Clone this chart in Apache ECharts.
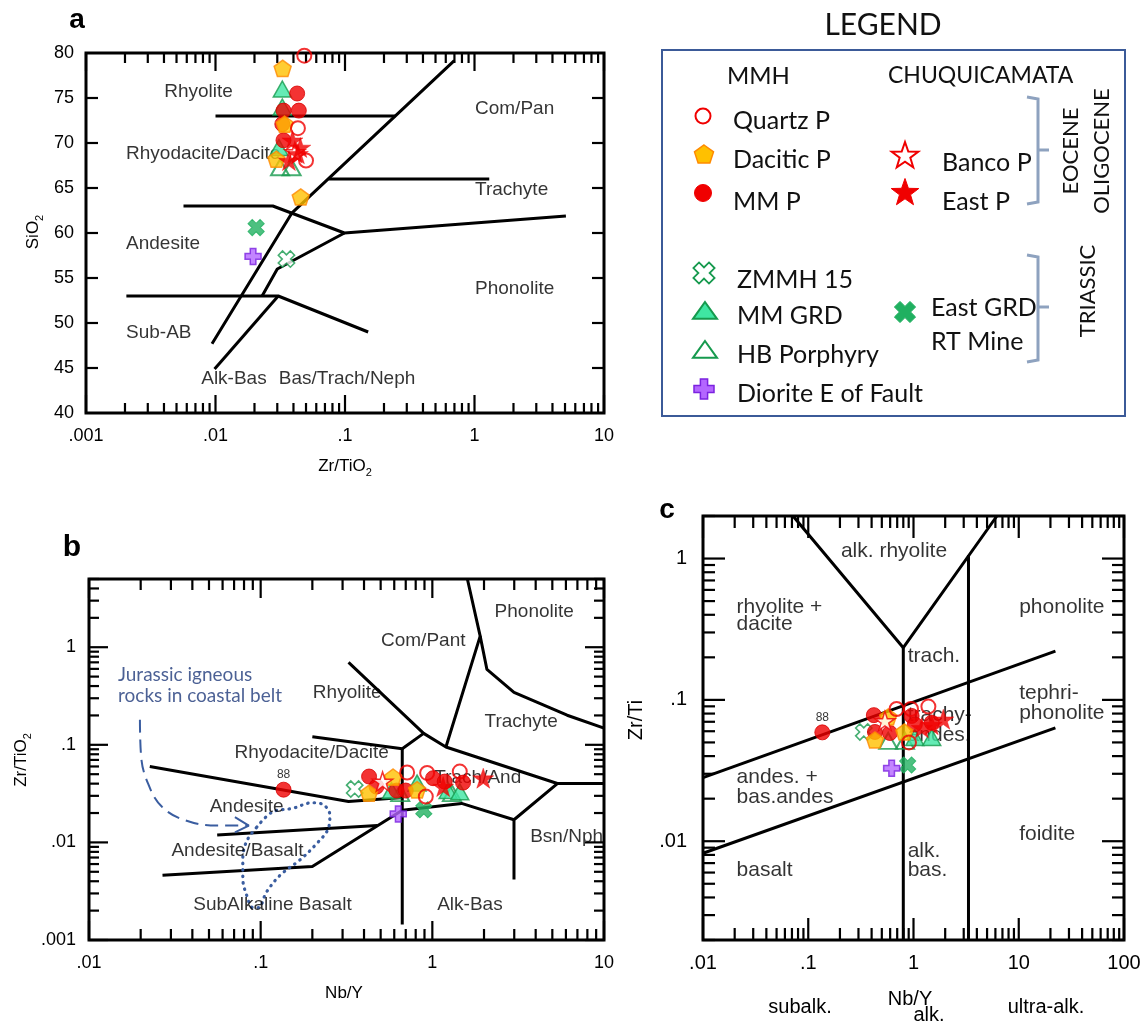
<!DOCTYPE html>
<html><head><meta charset="utf-8">
<script src="https://cdn.jsdelivr.net/npm/echarts@6/dist/echarts.min.js"></script>
<style>html,body{margin:0;padding:0;background:#fff}#chart{width:1146px;height:1024px}</style>
</head><body><div id="chart"></div>
<script>
// ================= DATA =================
// Panel a: x = Zr/TiO2, y = SiO2 (wt%)
const aQuartzP    = [[0.0485,79.7],[0.0433,71.65],[0.050,68.05]];
const aDaciticP   = [[0.033,78.3],[0.0342,72.1],[0.0295,68.2],[0.0455,64.0]];
const aMMP        = [[0.0427,75.5],[0.0335,73.6],[0.044,73.6],[0.0328,72.1],[0.0335,70.3]];
const aBancoP     = [[0.041,69.0]];
const aEastP      = [[0.0393,70.3],[0.0452,69.5],[0.0433,68.8],[0.0369,68.05]];
const aZMMH15     = [[0.0353,57.1]];
const aMMGRD      = [[0.0328,76.0],[0.0328,74.0],[0.0309,69.5]];
const aHBPorphyry = [[0.0315,67.3],[0.0387,67.3]];
const aEastGRD    = [[0.0206,60.6]];
const aDiorite    = [[0.0195,57.4]];

// Panel b: x = Nb/Y, y = Zr/TiO2
const bQuartzP    = [[0.713,0.052],[0.933,0.0515],[0.916,0.0295],[1.445,0.0532]];
const bDaciticP   = [[0.591,0.0467],[0.428,0.032],[0.815,0.0346]];
const bMMP        = [[0.428,0.0473],[0.473,0.0373],[0.619,0.034],[0.70,0.034],[1.01,0.0455],[1.18,0.042],[1.51,0.041]];
const bSample88   = [[0.136,0.0347]];
const bBancoP     = [[0.513,0.0421]];
const bEastP      = [[1.156,0.0373],[1.98,0.0455]];
const bZMMH15     = [[0.353,0.0352]];
const bMMGRD      = [[0.578,0.034],[0.815,0.0405],[1.236,0.034],[1.445,0.033]];
const bHBPorphyry = [[0.65,0.032],[1.3,0.032]];
const bEastGRD    = [[0.892,0.0216]];
const bDiorite    = [[0.633,0.0196]];

// Panel c: x = Nb/Y, y = Zr/Ti
const cQuartzP    = [[0.691,0.0862],[0.947,0.0862],[1.385,0.0897],[0.906,0.050]];
const cDaciticP   = [[0.43,0.052],[0.575,0.0758],[0.818,0.0593]];
const cMMP        = [[0.42,0.078],[0.43,0.0593],[0.597,0.0583],[0.96,0.077],[1.03,0.067],[1.49,0.069]];
const cSample88   = [[0.136,0.0589]];
const cBancoP     = [[0.535,0.071]];
const cEastP      = [[1.92,0.0729],[1.49,0.0668],[1.2,0.0634]];
const cZMMH15     = [[0.337,0.0593]];
const cMMGRD      = [[1.03,0.0542],[1.49,0.0542]];
const cHBPorphyry = [[0.575,0.0513],[0.83,0.0513]];
const cEastGRD    = [[0.88,0.0346]];
const cDiorite    = [[0.62,0.0328]];

// Classification field boundaries
const aLineRhyolite = [[0.01,73],[0.245,73]];
const aLineDiag1    = [[0.0094,47.7],[0.0388,62.2],[0.698,79.15]];
const aLineTrachyte = [[0.0745,66],[1.30,66]];
const aLineAndesite = [[0.00566,63],[0.0277,63],[0.099,60],[5.08,61.9]];
const aLineSubAB    = [[0.00205,53],[0.0305,53],[0.151,49]];
const aLineDiag2    = [[0.00984,44.9],[0.0305,53]];
const aLineBas      = [[0.0229,53],[0.030,56],[0.099,60]];

const bLine1 = [[0.0226,0.060],[0.325,0.0262],[0.668,0.0288]];
const bLine2 = [[0.2,0.121],[0.668,0.0912],[0.89,0.131]];
const bLine3 = [[0.325,0.70],[0.89,0.131],[1.2,0.095],[5.35,0.0401],[10,0.0401]];
const bLine4 = [[1.2,0.095],[1.90,1.30],[1.60,5]];
const bLine5 = [[1.90,1.30],[2.08,0.592],[2.99,0.345],[6.1,0.201],[10,0.148]];
const bLine6 = [[5.35,0.0401],[2.99,0.01706],[2.99,0.00417]];
const bLine7 = [[0.0268,0.00462],[0.2,0.00566],[0.668,0.0214],[1.48,0.0251],[2.99,0.01706]];
const bLine8 = [[0.0558,0.01189],[0.479,0.0149]];
const bLine9 = [[0.668,0.0912],[0.668,0.00144]];
const bJurassicField = [[0.0948,0.0143],[0.117,0.0205],[0.153,0.0223],[0.2,0.0255],[0.234,0.0241],[0.253,0.019],[0.247,0.0137],[0.21,0.00955],[0.17,0.00665],[0.13,0.00462],[0.108,0.00309],[0.0973,0.00215],[0.09,0.00215],[0.083,0.00285],[0.0787,0.00427],[0.0787,0.00692],[0.083,0.01035],[0.0948,0.0143]];
const bJurassicArrow = [[0.0198,0.181],[0.0201,0.0777],[0.022,0.0407],[0.0266,0.0232],[0.0365,0.0168],[0.0558,0.01488],[0.0853,0.01488]];
const bArrowHead = [[0.0708,0.0182],[0.0853,0.01488],[0.0708,0.01266]];

const cLineUpper = [[0.01,0.0282],[22.3,0.221]];
const cLineLower = [[0.01,0.00822],[22.3,0.0634]];
const cLineV     = [[0.0716,2],[0.8,0.234],[6.2,2]];
const cLineV1    = [[0.8,0.234],[0.8,0.002]];
const cLineV2    = [[3.33,1.06],[3.33,0.002]];

// Field names [x, y, text]
const aFieldNames = [[0.00398,75.7,'Rhyolite'],[1.0,73.75,'Com/Pan'],[0.00202,68.8,'Rhyodacite/Dacite'],[1.0,64.8,'Trachyte'],[0.00202,58.75,'Andesite'],[1.0,53.8,'Phonolite'],[0.00202,48.86,'Sub-AB'],[0.00769,43.8,'Alk-Bas'],[0.0305,43.8,'Bas/Trach/Neph']];
const bFieldNames = [[2.29,2.29,'Phonolite'],[0.499,1.155,'Com/Pant'],[0.2,0.34,'Rhyolite'],[2.0,0.174,'Trachyte'],[0.070,0.0822,'Rhyodacite/Dacite'],[1.02,0.046,'Trach/And'],[0.0501,0.0232,'Andesite'],[3.69,0.0114,'Bsn/Nph'],[0.030,0.00813,'Andesite/Basalt'],[0.0402,0.00229,'SubAlkaline Basalt'],[1.06,0.00229,'Alk-Bas']];
const bNote = [[0.01466,0.516,'Jurassic igneous'],[0.01466,0.318,'rocks in coastal belt']];
const cFieldNames = [[0.202,1.13,'alk. rhyolite'],[0.0206,0.449,'rhyolite +'],[0.0206,0.343,'dacite'],[9.98,0.449,'phonolite'],[0.87,0.203,'trach.'],[9.98,0.112,'tephri-'],[9.98,0.080,'phonolite'],[0.87,0.0784,'trachy-'],[0.87,0.056,'andes.'],[0.0206,0.0282,'andes. +'],[0.0206,0.0204,'bas.andes'],[9.98,0.0113,'foidite'],[0.87,0.00845,'alk.'],[0.87,0.00621,'bas.'],[0.0206,0.00621,'basalt']];

// Tick labels
const aXTickLabels = ['.001','.01','.1','1','10'];
const bXTickLabels = ['.01','.1','1','10'];
const bYTickLabels = ['.001','.01','.1','1'];
const cXTickLabels = ['.01','.1','1','10','100'];
const cYTickLabels = ['.01','.1','1'];
const aYTicks = [45,50,55,60,65,70,75];

// ================= STYLE / HELPERS =================
const FONT = '"Liberation Sans", Arial, sans-serif';
const LFONT = 'Lato, "Open Sans", sans-serif';
const PENT = 'path://M0,-10L9.511,-3.09L5.878,8.09L-5.878,8.09L-9.511,-3.09Z';
const STAR = 'path://M0,-10L2.245,-3.09L9.511,-3.09L3.633,1.18L5.878,8.09L0,3.82L-5.878,8.09L-3.633,1.18L-9.511,-3.09L-2.245,-3.09Z';
const PLUS = 'path://M-3.5,-10L3.5,-10L3.5,-3.5L10,-3.5L10,3.5L3.5,3.5L3.5,10L-3.5,10L-3.5,3.5L-10,3.5L-10,-3.5L-3.5,-3.5Z';
const RED='#f00000', GREEN='#169a4e', MINT='#3fe6a2', GOLD='#ffc000', ORANGE='#ff8a00', PURPLE='#b466ff', PURPLE_D='#7b22e0';
const LW = 3;

const STY = {
  HB:     {symbol:'triangle', symbolSize:[18,16], itemStyle:{color:'rgba(255,255,255,0)', borderColor:GREEN, borderWidth:2}},
  MMGRD:  {symbol:'triangle', symbolSize:[18,16], itemStyle:{color:MINT, borderColor:GREEN, borderWidth:1.5}},
  ZMMH:   {symbol:PLUS, symbolRotate:45, symbolSize:17, itemStyle:{color:'#fff', borderColor:GREEN, borderWidth:1.6}},
  EGRD:   {symbol:PLUS, symbolRotate:45, symbolSize:17, itemStyle:{color:'#20b060', borderColor:'#20b060', borderWidth:1}},
  DIOR:   {symbol:PLUS, symbolSize:16, itemStyle:{color:PURPLE, borderColor:PURPLE_D, borderWidth:1.5}},
  MMP:    {symbol:'circle', symbolSize:15, itemStyle:{color:RED, borderColor:'#d80000', borderWidth:1}},
  DAC:    {symbol:PENT, symbolSize:17, itemStyle:{color:GOLD, borderColor:ORANGE, borderWidth:1.5}},
  QTZ:    {symbol:'circle', symbolSize:14, itemStyle:{color:'rgba(255,255,255,0)', borderColor:RED, borderWidth:2}},
  BANCO:  {symbol:STAR, symbolSize:20, itemStyle:{color:'#fff', borderColor:RED, borderWidth:1.5}},
  EASTP:  {symbol:STAR, symbolSize:21, itemStyle:{color:RED, borderColor:RED, borderWidth:0.5}}
};

function decadeFmt(labels, minExp){
  return function(v){ const e=Math.log10(v); const r=Math.round(e); if(Math.abs(e-r)>1e-6) return ''; const s=labels[r-minExp]; return s===undefined?'':s; };
}
function logTicks(minExp, maxExp, lo, hi){
  const out=[];
  for(let e=minExp;e<=maxExp;e++){ for(let m=1;m<=9;m++){ const v=m*Math.pow(10,e); if(v<lo*0.999||v>hi*1.001) continue; out.push([v, m===1?1:0]); } }
  return out;
}
function lineSeries(i, data, extra){
  return Object.assign({type:'line', xAxisIndex:i, yAxisIndex:i, data:data, symbol:'none', silent:true, z:2, animation:false,
    lineStyle:{color:'#000', width:LW}}, extra||{});
}
function nameSeries(i, arr, fontSize, color, family){
  return {type:'scatter', xAxisIndex:i, yAxisIndex:i, silent:true, z:3, symbolSize:1, itemStyle:{color:'rgba(0,0,0,0)'}, animation:false, clip:false,
    data: arr.map(l=>({value:[l[0],l[1]], name:l[2]})),
    label:{show:true, position:'right', distance:0, formatter:'{b}', color:color||'#000', fontSize:fontSize, fontFamily:family||FONT}};
}
function markSeries(i, data, sty, extra){
  return Object.assign({type:'scatter', xAxisIndex:i, yAxisIndex:i, data:data, silent:true, clip:false, z:5, symbolKeepAspect:true, animation:false}, sty, extra||{});
}
function tickSeries(i, xTicks, yTicks, xRef, yRef, L){
  const data=[];
  xTicks.forEach(t=>data.push([t[0], yRef, 0, t[1]]));
  yTicks.forEach(t=>data.push([xRef, t[0], 1, t[1]]));
  return {type:'custom', xAxisIndex:i, yAxisIndex:i, silent:true, z:4, animation:false, clip:false,
    encode:{x:0,y:1}, data:data,
    renderItem:function(params, api){
      const cs=params.coordSys; const kind=api.value(2), major=api.value(3);
      const st={stroke:'#000', lineWidth:2.2};
      if(kind===0){
        const px=api.coord([api.value(0), yRef])[0]; const len=major?L.xM:L.xm; const b=cs.y+cs.height;
        return {type:'group', children:[
          {type:'line', shape:{x1:px,y1:b,x2:px,y2:b-len}, style:st},
          {type:'line', shape:{x1:px,y1:cs.y,x2:px,y2:cs.y+len}, style:st}]};
      } else {
        const py=api.coord([xRef, api.value(1)])[1]; const len=major?L.yM:L.ym; const r=cs.x+cs.width;
        return {type:'group', children:[
          {type:'line', shape:{x1:cs.x,y1:py,x2:cs.x+len,y2:py}, style:st},
          {type:'line', shape:{x1:r,y1:py,x2:r-len,y2:py}, style:st}]};
      }
    }};
}
function panelMarkers(i, d){
  return [
    markSeries(i, d.HB, STY.HB), markSeries(i, d.MMGRD, STY.MMGRD), markSeries(i, d.ZMMH, STY.ZMMH),
    markSeries(i, d.EGRD, STY.EGRD), markSeries(i, d.DIOR, STY.DIOR), markSeries(i, d.MMP, STY.MMP),
    markSeries(i, d.DAC, STY.DAC), markSeries(i, d.QTZ, STY.QTZ), markSeries(i, d.BANCO, STY.BANCO),
    markSeries(i, d.EASTP, STY.EASTP)
  ];
}
function s88(i, data){
  return markSeries(i, data, STY.MMP, {label:{show:true, formatter:'88', position:'top', distance:1, fontSize:12, color:'#000', fontFamily:FONT}});
}

const axisLab = (fmt, size, margin)=>({formatter:fmt, fontSize:size, color:'#000', margin:margin, fontFamily:FONT});
const baseAxis = {axisLine:{show:false}, axisTick:{show:false}, splitLine:{show:false}, minorTick:{show:false}};

// ================= LEGEND GRAPHIC =================
function symPts(kind, cx, cy, r){
  const pts=[];
  if(kind==='pentagon'){ for(let k=0;k<5;k++){ const a=-Math.PI/2+k*2*Math.PI/5; pts.push([cx+r*Math.cos(a), cy+r*Math.sin(a)]); } }
  else if(kind==='star'){ for(let k=0;k<10;k++){ const a=-Math.PI/2+k*Math.PI/5; const rr=k%2?r*0.4:r; pts.push([cx+rr*Math.cos(a), cy+rr*Math.sin(a)]); } }
  else if(kind==='triangle'){ pts.push([cx,cy-r*0.75],[cx+r,cy+r*0.65],[cx-r,cy+r*0.65]); }
  else { const w=r*0.36; const base=[[-w,-r],[w,-r],[w,-w],[r,-w],[r,w],[w,w],[w,r],[-w,r],[-w,w],[-r,w],[-r,-w],[-w,-w]];
    const ang=kind==='x'?Math.PI/4:0; base.forEach(p=>pts.push([cx+p[0]*Math.cos(ang)-p[1]*Math.sin(ang), cy+p[0]*Math.sin(ang)+p[1]*Math.cos(ang)])); }
  return pts;
}
const poly=(kind,cx,cy,r,fill,stroke,lw)=>({type:'polygon', shape:{points:symPts(kind,cx,cy,r)}, style:{fill:fill, stroke:stroke, lineWidth:lw||1.5}, z:10});
const txt=(t,x,y,size,extra)=>Object.assign({type:'text', x:x, y:y, z:10, style:Object.assign({text:t, fontSize:size, fontFamily:LFONT, fill:'#111', align:'left', verticalAlign:'middle'}, (extra&&extra.style)||{})}, extra?{rotation:extra.rotation||0}:{});
const BR='#8ea2bf';
const legendGraphic = [
  {type:'rect', shape:{x:662,y:50,width:463,height:366}, style:{fill:'none', stroke:'#3b5a98', lineWidth:2}, z:10},
  txt('LEGEND', 883, 25, 30, {style:{align:'center'}}),
  txt('MMH', 727, 76, 24), txt('CHUQUICAMATA', 888, 76, 23),
  {type:'circle', shape:{cx:703,cy:116,r:7.5}, style:{fill:'#fff', stroke:RED, lineWidth:2}, z:10},
  txt('Quartz P', 733, 121, 25),
  poly('pentagon',704,155,10,GOLD,ORANGE,1.5), txt('Dacitic P', 733, 160, 25),
  {type:'circle', shape:{cx:703,cy:193,r:8.5}, style:{fill:RED, stroke:RED, lineWidth:1}, z:10},
  txt('MM P', 733, 202, 25),
  poly('star',905,156,14,'#fff',RED,2), txt('Banco P', 942, 163, 25),
  poly('star',905,193,14.5,RED,RED,1), txt('East P', 942, 202, 25),
  poly('x',704,273,11,'#fff',GREEN,1.8), txt('ZMMH 15', 737, 280, 25),
  poly('triangle',705,311,12,MINT,GREEN,2), txt('MM GRD', 737, 316, 25),
  poly('triangle',705,350,12,'#fff',GREEN,2), txt('HB Porphyry', 737, 355, 25),
  poly('plus',704,389,10,PURPLE,PURPLE_D,1.5), txt('Diorite E of Fault', 737, 394, 25),
  poly('x',905,312,11,'#20b060','#20b060',1), txt('East GRD', 931, 308, 25), txt('RT Mine', 931, 342, 25),
  {type:'polyline', shape:{points:[[1027,97],[1038,99],[1038,202],[1027,204]]}, style:{stroke:BR, lineWidth:3, fill:null}, z:10},
  {type:'line', shape:{x1:1038,y1:150,x2:1049,y2:150}, style:{stroke:BR, lineWidth:3}, z:10},
  {type:'polyline', shape:{points:[[1027,255],[1038,257],[1038,360],[1027,362]]}, style:{stroke:BR, lineWidth:3, fill:null}, z:10},
  {type:'line', shape:{x1:1038,y1:307,x2:1049,y2:307}, style:{stroke:BR, lineWidth:3}, z:10},
  txt('EOCENE', 1071, 151, 22, {rotation:Math.PI/2, style:{align:'center'}}),
  txt('OLIGOCENE', 1102, 151, 22, {rotation:Math.PI/2, style:{align:'center'}}),
  txt('TRIASSIC', 1088, 291, 22, {rotation:Math.PI/2, style:{align:'center'}})
];

const SUBRICH = {s:{fontSize:11, fontFamily:FONT, fill:'#000', verticalAlign:'bottom', lineHeight:24}, n:{fontSize:17, fontFamily:FONT, fill:'#000', lineHeight:24}};
const axText=(t,x,y,size,rot)=>({type:'text', x:x, y:y, rotation:rot||0, z:10,
  style:{text:t, rich:SUBRICH, fontSize:size, fontFamily:FONT, fill:'#000', align:'center', verticalAlign:'middle'}});
const plainText=(t,x,y,size,rot,weight)=>({type:'text', x:x, y:y, rotation:rot||0, z:10,
  style:{text:t, fontSize:size, fontFamily:FONT, fontWeight:weight||'normal', fill:'#000', align:'center', verticalAlign:'middle'}});

const otherGraphic = [
  plainText('a', 77, 20, 28, 0, 'bold'), plainText('b', 72, 548, 30, 0, 'bold'), plainText('c', 667, 510, 28, 0, 'bold'),
  axText('{n|SiO}{s|2}', 33, 232, 17, Math.PI/2),
  axText('{n|Zr/TiO}{s|2}', 345, 466, 17),
  axText('{n|Zr/TiO}{s|2}', 21, 760, 17, Math.PI/2),
  plainText('Nb/Y', 344, 993, 17),
  plainText('Zr/Ti', 636, 720, 20, Math.PI/2),
  plainText('subalk.', 800, 1007, 20), plainText('Nb/Y', 910, 999, 20), plainText('alk.', 929, 1015, 20), plainText('ultra-alk.', 1046, 1007, 20)
];

// ================= OPTION =================
const option = {
  animation:false,
  backgroundColor:'#fff',
  grid:[
    {left:86, top:53, width:518, height:360, show:true, borderColor:'#000', borderWidth:3, backgroundColor:'transparent'},
    {left:89, top:579, width:515, height:361, show:true, borderColor:'#000', borderWidth:3, backgroundColor:'transparent'},
    {left:703, top:516, width:421, height:424, show:true, borderColor:'#000', borderWidth:3, backgroundColor:'transparent'}
  ],
  xAxis:[
    Object.assign({gridIndex:0, type:'log', logBase:10, min:0.001, max:10, axisLabel:axisLab(decadeFmt(aXTickLabels,-3),18,14)}, baseAxis),
    Object.assign({gridIndex:1, type:'log', logBase:10, min:0.01, max:10, axisLabel:axisLab(decadeFmt(bXTickLabels,-2),18,14)}, baseAxis),
    Object.assign({gridIndex:2, type:'log', logBase:10, min:0.01, max:100, axisLabel:axisLab(decadeFmt(cXTickLabels,-2),20,13)}, baseAxis)
  ],
  yAxis:[
    Object.assign({gridIndex:0, type:'value', min:40, max:80, interval:5, axisLabel:axisLab(null,18,12)}, baseAxis),
    Object.assign({gridIndex:1, type:'log', logBase:10, min:0.001, max:5, axisLabel:axisLab(decadeFmt(bYTickLabels,-3),18,13)}, baseAxis),
    Object.assign({gridIndex:2, type:'log', logBase:10, min:0.002, max:2, axisLabel:axisLab(decadeFmt(cYTickLabels,-2),20,16)}, baseAxis)
  ],
  graphic: legendGraphic.concat(otherGraphic),
  series: [].concat(
    // panel a
    [aLineRhyolite,aLineDiag1,aLineTrachyte,aLineAndesite,aLineSubAB,aLineDiag2,aLineBas].map(d=>lineSeries(0,d)),
    [nameSeries(0, aFieldNames, 19)],
    [tickSeries(0, logTicks(-3,1,0.001,10), aYTicks.map(v=>[v,1]), 0.1, 60, {xM:18,xm:10,yM:12,ym:12})],
    panelMarkers(0, {HB:aHBPorphyry, MMGRD:aMMGRD, ZMMH:aZMMH15, EGRD:aEastGRD, DIOR:aDiorite, MMP:aMMP, DAC:aDaciticP, QTZ:aQuartzP, BANCO:aBancoP, EASTP:aEastP}),
    // panel b
    [bLine1,bLine2,bLine3,bLine4,bLine5,bLine6,bLine7,bLine8,bLine9].map(d=>lineSeries(1,d)),
    [lineSeries(1, bJurassicField, {smooth:0.35, lineStyle:{color:'#3a5da0', width:3.2, type:[0.5,6], cap:'round'}}),
     lineSeries(1, bJurassicArrow, {smooth:0.4, lineStyle:{color:'#3a5da0', width:2, type:[13,7]}}),
     lineSeries(1, bArrowHead, {lineStyle:{color:'#3a5da0', width:2}})],
    [nameSeries(1, bFieldNames, 19), nameSeries(1, bNote, 19, '#1f3a7a', LFONT)],
    [tickSeries(1, logTicks(-2,1,0.01,10), logTicks(-3,0,0.001,5), 1, 0.1, {xM:19,xm:11,yM:19,ym:10})],
    panelMarkers(1, {HB:bHBPorphyry, MMGRD:bMMGRD, ZMMH:bZMMH15, EGRD:bEastGRD, DIOR:bDiorite, MMP:bMMP, DAC:bDaciticP, QTZ:bQuartzP, BANCO:bBancoP, EASTP:bEastP}),
    [s88(1, bSample88)],
    // panel c
    [cLineUpper,cLineLower,cLineV,cLineV1,cLineV2].map(d=>lineSeries(2,d)),
    [nameSeries(2, cFieldNames, 21)],
    [tickSeries(2, logTicks(-2,2,0.01,100), logTicks(-3,0,0.002,2), 1, 0.1, {xM:22,xm:12,yM:22,ym:12})],
    panelMarkers(2, {HB:cHBPorphyry, MMGRD:cMMGRD, ZMMH:cZMMH15, EGRD:cEastGRD, DIOR:cDiorite, MMP:cMMP, DAC:cDaciticP, QTZ:cQuartzP, BANCO:cBancoP, EASTP:cEastP}),
    [s88(2, cSample88)]
  )
};

const chart = echarts.init(document.getElementById('chart'), null, {renderer:'canvas'});
chart.setOption(option);
</script></body></html>
